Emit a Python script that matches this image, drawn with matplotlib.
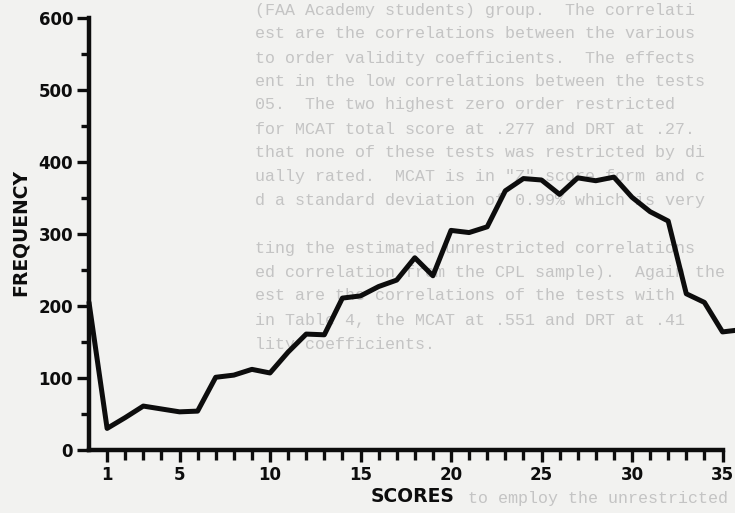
import matplotlib
matplotlib.use("Agg")
import matplotlib.pyplot as plt
from matplotlib.ticker import FixedLocator

# Frequency distribution of test scores
scores = list(range(0, 37))
frequency = [205, 30, 45, 61, 57, 53, 54, 101, 104, 112,
             107, 136, 161, 160, 211, 214, 227, 236, 267, 242,
             305, 302, 310, 360, 377, 375, 355, 378, 374, 379,
             351, 331, 318, 217, 205, 164, 167]

x_major = [1, 5, 10, 15, 20, 25, 30, 35]
x_minor = [s for s in range(1, 36) if s not in x_major]
y_major = [0, 100, 200, 300, 400, 500, 600]
y_minor = [50, 150, 250, 350, 450, 550]

# Typed report page that the graph was pasted onto: (row y, left x, text)
page_lines = [
    (10, 255, "(FAA Academy students) group.  The correlati"),
    (34, 255, "est are the correlations between the various"),
    (58, 255, "to order validity coefficients.  The effects"),
    (81, 255, "ent in the low correlations between the tests"),
    (105, 255, "05.  The two highest zero order restricted"),
    (129, 255, "for MCAT total score at .277 and DRT at .27."),
    (153, 255, "that none of these tests was restricted by di"),
    (177, 255, "ually rated.  MCAT is in \"Z\" score form and c"),
    (201, 255, "d a standard deviation of 0.99% which is very"),
    (248, 255, "ting the estimated unrestricted correlations"),
    (272, 255, "ed correlation from the CPL sample).  Again the"),
    (296, 255, "est are the correlations of the tests with"),
    (320, 255, "in Table 4, the MCAT at .551 and DRT at .41"),
    (344, 255, "lity coefficients."),
    (498, 468, "to employ the unrestricted"),
]

W, H = 735, 513
INK = "#0d0d0d"
PAPER = "#f2f2f0"

plt.rcParams["font.family"] = ["DejaVu Sans"]
plt.rcParams["font.weight"] = "bold"

fig = plt.figure(figsize=(W / 100, H / 100), dpi=100)
fig.patch.set_facecolor(PAPER)

for ypix, xpix, line in page_lines:
    fig.text(xpix / W, 1 - ypix / H, line, family="Liberation Mono",
             fontweight="normal", fontsize=12, color="#c4c4c4",
             ha="left", va="center", zorder=-1)

x_left, x_scale = 89, 18.1          # pixels: x origin, pixels per score
y_base, y_top = 450, 18             # pixels: frequency 0 and 600
ax = fig.add_axes([x_left / W, (H - y_base) / H,
                   (W - x_left) / W, (y_base - y_top) / H])
ax.set_facecolor("none")
ax.set_xlim(0, (W - x_left) / x_scale)
ax.set_ylim(0, 600)

ax.plot(scores, frequency, color=INK, lw=3.6, solid_joinstyle="round",
        solid_capstyle="round", clip_on=False, zorder=3)

for side in ("top", "right"):
    ax.spines[side].set_visible(False)
for side in ("left", "bottom"):
    ax.spines[side].set_linewidth(3.2)
    ax.spines[side].set_color(INK)
    ax.spines[side].set_capstyle("projecting")
ax.spines["left"].set_bounds(0, 600)
ax.spines["bottom"].set_bounds(0, 35)

ax.xaxis.set_major_locator(FixedLocator(x_major))
ax.xaxis.set_minor_locator(FixedLocator(x_minor))
ax.yaxis.set_major_locator(FixedLocator(y_major))
ax.yaxis.set_minor_locator(FixedLocator(y_minor))
ax.set_xticklabels([str(v) for v in x_major])
ax.set_yticklabels([str(v) for v in y_major])

ax.tick_params(axis="x", which="major", direction="out", length=8.5,
               width=2.4, color=INK, pad=3, labelsize=12, labelcolor=INK)
ax.tick_params(axis="x", which="minor", direction="out", length=7,
               width=2.4, color=INK)
ax.tick_params(axis="y", which="major", direction="out", length=8.5,
               width=2.4, color=INK, pad=3, labelsize=12, labelcolor=INK)
ax.tick_params(axis="y", which="minor", direction="out", length=5.5,
               width=2.4, color=INK)

ax.set_xlabel("SCORES", fontsize=13.5, fontweight="bold", color=INK)
ax.xaxis.set_label_coords((413 - x_left) / (W - x_left),
                          -(497 - y_base) / (y_base - y_top))
ax.xaxis.label.set_va("center")
ax.set_ylabel("FREQUENCY", fontsize=13.5, fontweight="bold", color=INK)
ax.yaxis.set_label_coords(-(x_left - 20) / (W - x_left),
                          (y_base - 232) / (y_base - y_top))
ax.yaxis.label.set_va("center")

fig.savefig("out.png", dpi=100, facecolor=PAPER)
